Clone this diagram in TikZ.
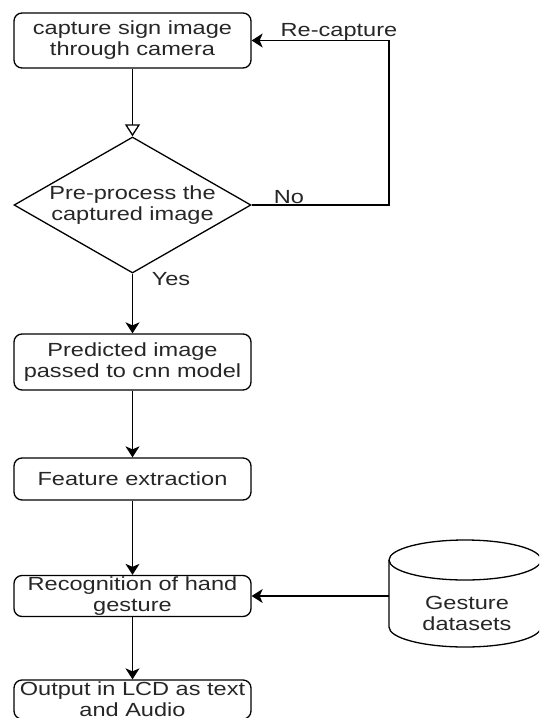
\documentclass[tikz,border=0pt]{standalone}
\usepackage{fontspec}
\setmainfont{Liberation Sans}[FakeStretch=1.24]
\usetikzlibrary{shapes.geometric,arrows.meta}

\begin{document}
\begin{tikzpicture}[x=1pt, y=-1pt, line width=1.3pt,
    font=\fontsize{19}{21}\selectfont, text=black!85,
    stepbox/.style={draw, rounded corners=8pt, minimum width=237pt, align=center, inner sep=0pt},
    flow/.style={-{Stealth[length=11pt,width=14pt,inset=3pt]}}]
    \useasboundingbox (0,0) rectangle (539,718);
    \clip (0,0) rectangle (539,718);
    \node[stepbox, minimum height=55pt] (capture) at (132.5,40.5) {capture sign image\\through camera};
    \node[draw, diamond, aspect=1.74, minimum width=237pt, minimum height=136pt, inner sep=0pt, align=center] (pre) at (132.5,205) {Pre-process the\\captured image};
    \node[stepbox, minimum height=56pt] (predict) at (132.5,362) {Predicted image\\passed to cnn model};
    \node[stepbox, minimum height=42pt] (feature) at (132.5,479) {Feature extraction};
    \node[stepbox, minimum height=41pt] (recog) at (132.5,596) {Recognition of hand\\gesture};
    \node[stepbox, minimum height=39pt] (output) at (132.5,699.5) {Output in LCD as text\\and Audio};
    % gesture datasets cylinder
    \draw (465,560) ellipse [x radius=76pt, y radius=20pt];
    \draw (389,560) -- (389,627) arc[start angle=180, end angle=360, x radius=76pt, y radius=20pt] -- (541,560);
    \node[align=center] (gesture) at (467,613) {Gesture\\datasets};
    \coordinate (dbside) at (389,596);
    \coordinate (loop) at (389,205);
    % labels
    \node (recap) at (339,32) {Re-capture};
    \node (no) at (289,197) {No};
    \node (yes) at (171,279) {Yes};
    % connectors
    \path (capture) edge[-{Triangle[open,length=12pt,width=15pt]}] (pre);
    \draw[flow] (pre.east) -- (loop) |- (capture.east);
    \path (pre) edge[flow] (predict);
    \path (predict) edge[flow] (feature);
    \path (feature) edge[flow] (recog);
    \path (recog) edge[flow] (output);
    \path (dbside) edge[flow] (recog);
\end{tikzpicture}
\end{document}
